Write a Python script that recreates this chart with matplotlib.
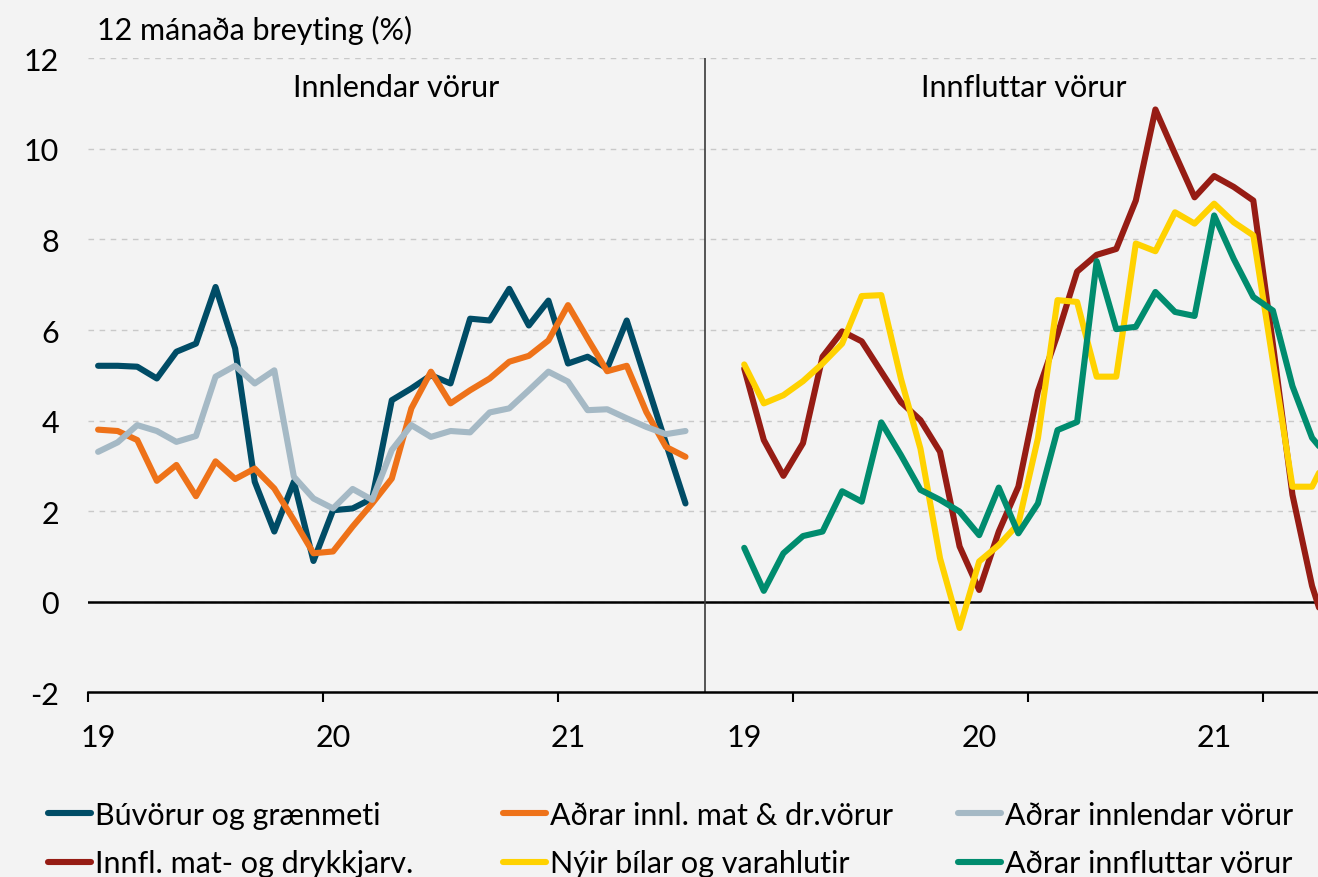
import matplotlib
matplotlib.use("Agg")
import matplotlib.pyplot as plt

plt.rcParams['font.family'] = ['Lato', 'DejaVu Sans']
plt.rcParams['axes.unicode_minus'] = False

# 12 mánaða breyting (%), mánaðarleg gildi jan 2019 - júl 2021
buvorur = [5.21, 5.21, 5.19, 4.93, 5.52, 5.70, 6.95, 5.59, 2.65, 1.55, 2.65, 0.90,
           2.02, 2.06, 2.28, 4.45, 4.71, 5.00, 4.82, 6.25, 6.21, 6.91, 6.10, 6.65,
           5.26, 5.41, 5.15, 6.21, 4.85, 3.50, 2.17]
innl_mat = [3.80, 3.77, 3.57, 2.67, 3.02, 2.33, 3.10, 2.71, 2.94, 2.50, 1.80, 1.07,
            1.11, 1.66, 2.17, 2.72, 4.27, 5.08, 4.38, 4.67, 4.93, 5.30, 5.43, 5.77,
            6.55, 5.81, 5.09, 5.21, 4.19, 3.42, 3.20]
innlendar = [3.31, 3.52, 3.90, 3.77, 3.53, 3.66, 4.97, 5.21, 4.82, 5.11, 2.76, 2.28,
             2.06, 2.49, 2.25, 3.35, 3.90, 3.64, 3.77, 3.74, 4.18, 4.27, 4.67, 5.08,
             4.86, 4.23, 4.25, 4.05, 3.86, 3.70, 3.77]
innfl_mat = [5.15, 3.57, 2.78, 3.50, 5.41, 5.97, 5.75, 5.08, 4.41, 4.01, 3.31, 1.22,
             0.26, 1.55, 2.54, 4.65, 5.90, 7.29, 7.66, 7.79, 8.86, 10.87, 9.89, 8.93,
             9.40, 9.16, 8.86, 5.69, 2.36, 0.35, -1.00]
nyir_bilar = [5.24, 4.38, 4.56, 4.87, 5.26, 5.70, 6.75, 6.77, 4.93, 3.38, 0.96, -0.58,
              0.89, 1.25, 1.72, 3.61, 6.66, 6.62, 4.97, 4.97, 7.91, 7.74, 8.60, 8.35,
              8.79, 8.38, 8.09, 5.31, 2.54, 2.54, 3.40]
annad_innfl = [1.19, 0.24, 1.07, 1.45, 1.55, 2.44, 2.21, 3.96, 3.24, 2.47, 2.25, 1.99,
               1.47, 2.52, 1.51, 2.17, 3.79, 3.97, 7.52, 6.02, 6.07, 6.84, 6.40, 6.31,
               8.53, 7.57, 6.73, 6.43, 4.76, 3.62, 3.10]

n = len(buvorur)
x_left = list(range(n))                  # vinstri hluti
x_right = [i + n + 2 for i in range(n)]  # hægri hluti, tveir auðir flokkar á milli
tick_labels = ['19', '20', '21', '19', '20', '21']
tick_pos = [0, 12, 24, n + 2, n + 14, n + 26]

c_buv = '#004c66'
c_innlmat = '#ee7219'
c_innl = '#a5b9c5'
c_innflmat = '#961c14'
c_nyir = '#ffd200'
c_annad = '#008c6e'
bg = '#f3f3f3'
fs = 22

fig = plt.figure(figsize=(13.18, 8.78), dpi=100, facecolor=bg)
ax = fig.add_axes([88.3 / 1318, 184.7 / 878, 64 * 19.58 / 1318, 634 / 878])
ax.set_facecolor(bg)

st = dict(lw=4.4, solid_capstyle='round', solid_joinstyle='round')
ax.plot(x_left, buvorur, color=c_buv, label='Búvörur og grænmeti', **st)
ax.plot(x_left, innl_mat, color=c_innlmat, label='Aðrar innl. mat & dr.vörur', **st)
ax.plot(x_left, innlendar, color=c_innl, label='Aðrar innlendar vörur', **st)
ax.plot(x_right, innfl_mat, color=c_innflmat, label='Innfl. mat- og drykkjarv.', **st)
ax.plot(x_right, nyir_bilar, color=c_nyir, label='Nýir bílar og varahlutir', **st)
ax.plot(x_right, annad_innfl, color=c_annad, label='Aðrar innfluttar vörur', **st)

ax.axhline(0, color='black', lw=1.8, zorder=1)
ax.axvline(n, color='#3a3a3a', lw=1.2, zorder=1)

ax.set_xlim(-0.5, 63.5)
ax.set_ylim(-2, 12)
ax.set_yticks(range(-2, 13, 2))
ax.yaxis.grid(True, color='#c9c9c9', lw=1.0, ls=(0, (4, 4)))
ax.set_axisbelow(True)
ax.tick_params(axis='y', length=0, pad=21, labelsize=fs)

ax.set_xticks([-0.5 + 12 * k for k in range(6)])
ax.set_xticklabels([])
ax.tick_params(axis='x', which='major', length=7.5, width=1.5, direction='out')
ax.set_xticks(tick_pos, tick_labels, minor=True)
ax.tick_params(axis='x', which='minor', length=0, pad=22, labelsize=fs)

for s in ['top', 'right', 'left']:
    ax.spines[s].set_visible(False)
ax.spines['bottom'].set_linewidth(1.8)

fig.text(97 / 1318, 1 - 30 / 878, '12 mánaða breyting (%)', fontsize=fs, va='center', ha='left')
fig.text(396 / 1318, 1 - 88 / 878, 'Innlendar vörur', fontsize=fs, va='center', ha='center')
fig.text(1024 / 1318, 1 - 88 / 878, 'Innfluttar vörur', fontsize=fs, va='center', ha='center')

handles, labels = ax.get_legend_handles_labels()
cols = [(0, 3), (1, 4), (2, 5)]
col_x = [48, 503, 958]
for (a, b), cx in zip(cols, col_x):
    fig.legend([handles[a], handles[b]], [labels[a], labels[b]],
               loc='upper left', bbox_to_anchor=(cx / 1318, 1 - 802 / 878),
               frameon=False, fontsize=fs, handlelength=1.4, handletextpad=0.15,
               labelspacing=0.67, borderpad=0, borderaxespad=0)

fig.savefig('out.png', dpi=100, facecolor=bg)
